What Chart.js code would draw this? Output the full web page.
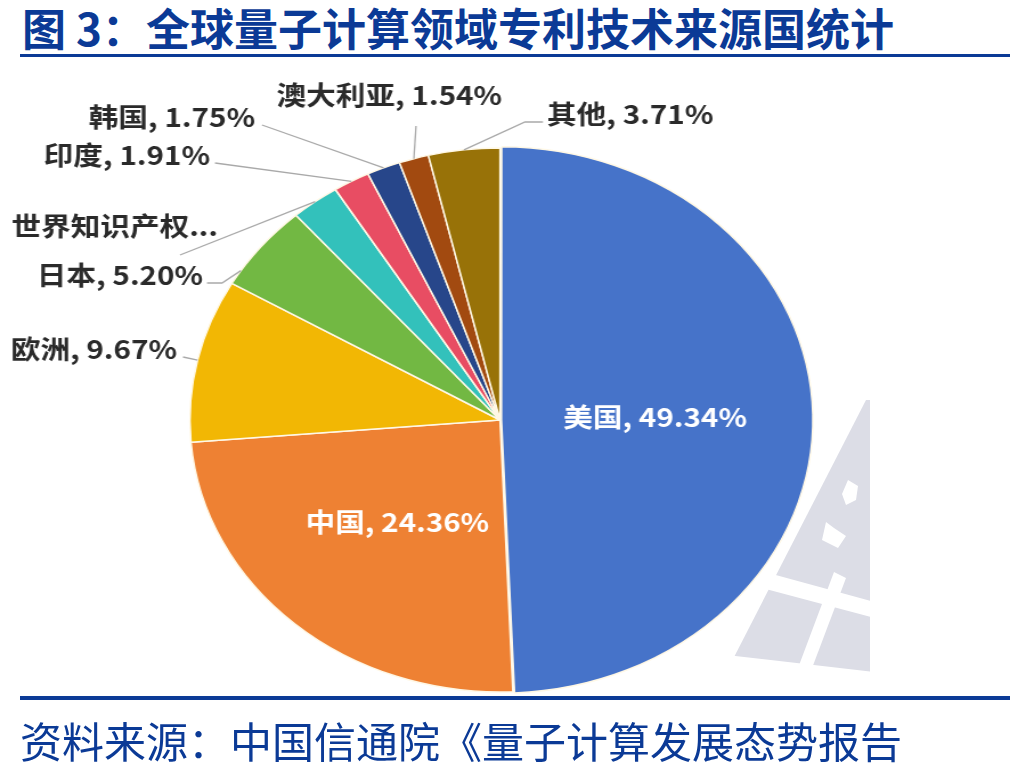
<!DOCTYPE html>
<html><head><meta charset="utf-8">
<script src="https://cdn.jsdelivr.net/npm/chart.js@4/dist/chart.umd.min.js"></script>
<style>
html,body{margin:0;padding:0;background:#fff;}
body{width:1036px;height:775px;position:relative;overflow:hidden;font-family:"Noto Sans CJK SC",sans-serif;}
#title{position:absolute;left:22px;top:0px;font-size:44px;font-weight:700;color:#0b3a96;white-space:nowrap;line-height:54px;}
#tline{position:absolute;left:20px;top:54px;width:990px;height:3px;background:#0b3a96;}
#fline{position:absolute;left:20px;top:696px;width:990px;height:4px;background:#0b3a96;}
#foot{position:absolute;left:20px;top:712px;font-size:42px;font-weight:400;color:#0b3a96;white-space:nowrap;line-height:56px;}
#wm{position:absolute;left:0;top:0;}
#wrap{position:absolute;left:0;top:0;width:909px;height:775px;transform:scaleX(1.14);transform-origin:0 0;}
</style>
</head><body>
<svg id="wm" width="1036" height="775">
  <defs><clipPath id="c"><rect x="600" y="380" width="270" height="315"/></clipPath></defs>
  <g clip-path="url(#c)">
    <polygon points="866,400 875,400 875,700 712,700" fill="#dcdde6"/>
    <polygon points="728,562 875,602 875,618 720,577" fill="#ffffff"/>
    <polygon points="834,572 846,578 800,700 786,700" fill="#ffffff"/>
    <polygon points="700,652 875,672 875,700 700,700" fill="#ffffff"/>
    <polygon points="848,480 858,486 856,500 846,505 842,494" fill="#ffffff"/>
    <polygon points="826,522 834,528 846,536 838,548 822,540" fill="#ffffff"/>
  </g>
</svg>
<div id="title">图 3：全球量子计算领域专利技术来源国统计</div>
<div id="tline"></div>
<div id="wrap"><canvas id="chart"></canvas></div>
<div id="fline"></div>
<div id="foot">资料来源：中国信通院《量子计算发展态势报告</div>
<script>
// ---- data ----
const categories = ['美国', '中国', '欧洲', '日本', '世界知识产权组织', '印度', '韩国', '澳大利亚', '其他'];
const shares = [49.34, 24.36, 9.67, 5.20, 2.52, 1.91, 1.75, 1.54, 3.71];
const sliceColors = ['#4673c9', '#ee8133', '#f2b704', '#72b843', '#33c1bb', '#e84d63', '#27468a', '#a24a10', '#987208'];

// ---- label layout (unscaled canvas coords; canvas is stretched 1.14x horizontally) ----
const SX = 1.14;
const labelLayout = [
  {inside: true, frac: 0.5},
  {inside: true, frac: 0.5},
  {tx: 177/SX, ty: 349, align: 'right', path: [[183/SX, 357]], at: 0.5},
  {tx: 203/SX, ty: 275, align: 'right', path: [[207/SX, 283], [222/SX, 283]], at: 0.17},
  {tx: 218/SX, ty: 226, align: 'right', path: [[180/SX, 255]], at: 0.5, truncate: 6},
  {tx: 210/SX, ty: 155, align: 'right', path: [[215/SX, 163]], at: 0.5},
  {tx: 255/SX, ty: 117, align: 'right', path: [[262/SX, 125]], at: 0.5},
  {tx: 502/SX, ty: 95, align: 'right', path: [[416/SX, 126]], at: 0.5},
  {tx: 547/SX, ty: 114, align: 'left', path: [[543/SX, 122], [525/SX, 122]], at: 0.5}
];

function labelText(i) {
  const lay = labelLayout[i];
  if (lay.truncate) return categories[i].slice(0, lay.truncate) + '...';
  return categories[i] + ', ' + shares[i].toFixed(2) + '%';
}

const labelPlugin = {
  id: 'pieLabels',
  afterDatasetsDraw(chart) {
    const ctx = chart.ctx;
    const meta = chart.getDatasetMeta(0);
    ctx.save();
    ctx.font = 'bold 26px "Noto Sans CJK SC", sans-serif';
    ctx.textBaseline = 'middle';
    meta.data.forEach((arc, i) => {
      const p = arc.getProps(['x', 'y', 'startAngle', 'endAngle', 'outerRadius'], true);
      const lay = labelLayout[i];
      const txt = labelText(i);
      if (lay.inside) {
        const a = (p.startAngle + p.endAngle) / 2;
        const r = p.outerRadius * lay.frac;
        ctx.fillStyle = '#ffffff';
        ctx.textAlign = 'center';
        ctx.fillText(txt, p.x + Math.cos(a) * r, p.y + Math.sin(a) * r);
        return;
      }
      const a = p.startAngle + (p.endAngle - p.startAngle) * lay.at;
      const ax = p.x + Math.cos(a) * p.outerRadius;
      const ay = p.y + Math.sin(a) * p.outerRadius;
      ctx.strokeStyle = '#a9a9a9';
      ctx.lineWidth = 1.3;
      ctx.beginPath();
      ctx.moveTo(lay.path[0][0], lay.path[0][1]);
      for (let k = 1; k < lay.path.length; k++) ctx.lineTo(lay.path[k][0], lay.path[k][1]);
      ctx.lineTo(ax, ay);
      ctx.stroke();
      ctx.fillStyle = '#2a2a2a';
      ctx.textAlign = lay.align;
      ctx.fillText(txt, lay.tx, lay.ty);
    });
    ctx.restore();
  }
};

new Chart(document.getElementById('chart'), {
  type: 'pie',
  data: {
    labels: categories,
    datasets: [{
      data: shares,
      backgroundColor: sliceColors,
      borderColor: '#fff8e6',
      borderWidth: 1.5,
      hoverBorderWidth: 1.5,
      offset: [5, 0, 0, 0, 0, 0, 0, 0, 0],
      hoverOffset: 0
    }]
  },
  options: {
    responsive: true,
    maintainAspectRatio: false,
    animation: false,
    events: [],
    layout: {padding: {top: 144.75, bottom: 79.75, left: 163.35, right: 195.15}},
    plugins: {legend: {display: false}, tooltip: {enabled: false}, title: {display: false}}
  },
  plugins: [labelPlugin]
});
</script>
</body></html>
